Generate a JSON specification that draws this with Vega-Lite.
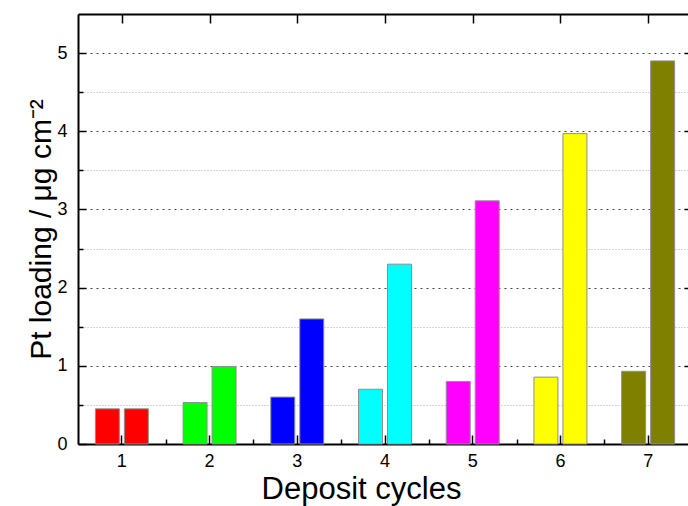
{
  "$schema": "https://vega.github.io/schema/vega-lite/v6.json",
  "width": 610,
  "height": 430,
  "autosize": "none",
  "padding": {"left": 78, "top": 14, "right": 0, "bottom": 62},
  "config": {
    "view": {"stroke": null},
    "font": "Liberation Sans",
    "axis": {"labelColor": "black", "titleColor": "black", "domainColor": "black", "domainWidth": 2, "tickColor": "black", "tickWidth": 1.5}
  },
  "data": {
    "values": [
      {"cycle": 1, "series": "A", "loading": 0.45},
      {"cycle": 1, "series": "B", "loading": 0.45},
      {"cycle": 2, "series": "A", "loading": 0.53},
      {"cycle": 2, "series": "B", "loading": 0.99},
      {"cycle": 3, "series": "A", "loading": 0.60},
      {"cycle": 3, "series": "B", "loading": 1.60},
      {"cycle": 4, "series": "A", "loading": 0.70},
      {"cycle": 4, "series": "B", "loading": 2.30},
      {"cycle": 5, "series": "A", "loading": 0.80},
      {"cycle": 5, "series": "B", "loading": 3.11},
      {"cycle": 6, "series": "A", "loading": 0.855},
      {"cycle": 6, "series": "B", "loading": 3.97},
      {"cycle": 7, "series": "A", "loading": 0.93},
      {"cycle": 7, "series": "B", "loading": 4.90}
    ]
  },
  "layer": [
    {
      "mark": {"type": "bar", "stroke": "#8f8f8f", "strokeWidth": 1},
      "encoding": {
        "x": {
          "field": "cycle",
          "type": "ordinal",
          "scale": {"range": [0, 614], "paddingInner": 0.396, "paddingOuter": 0.198},
          "axis": {
            "orient": "bottom",
            "labelAngle": 0,
            "tickSize": -9,
            "labelFontSize": 18,
            "labelPadding": 17,
            "labelBaseline": "top",
            "grid": false,
            "title": "Deposit cycles",
            "titleFontSize": 31,
            "titleFontWeight": "normal",
            "titleX": 283,
            "titleY": 54,
            "titleAlign": "center",
            "titleBaseline": "alphabetic"
          }
        },
        "xOffset": {"field": "series", "type": "nominal", "scale": {"paddingInner": 0.172}},
        "y": {
          "field": "loading",
          "type": "quantitative",
          "stack": null,
          "scale": {"domain": [0, 5.5], "nice": false},
          "axis": {
            "orient": "left",
            "values": [0, 1, 2, 3, 4, 5],
            "format": "d",
            "tickSize": -8,
            "labelFontSize": 18,
            "labelPadding": 19,
            "grid": true,
            "gridColor": "#444444",
            "gridDash": [2, 4],
            "gridWidth": 1,
            "title": "Pt loading / μg cm⁻²",
            "titleFontSize": 30,
            "titleFontWeight": "normal",
            "titleAngle": -90,
            "titleX": -28,
            "titleY": 215,
            "titleAlign": "center",
            "titleBaseline": "alphabetic"
          }
        },
        "fill": {
          "field": "cycle",
          "type": "nominal",
          "scale": {"range": ["#ff0000", "#00ff00", "#0000ff", "#00ffff", "#ff00ff", "#ffff00", "#808000"]},
          "legend": null
        }
      }
    },
    {
      "mark": {"type": "point", "opacity": 0},
      "encoding": {
        "x": {
          "field": "cycle",
          "type": "quantitative",
          "scale": {"domain": [0.5, 7.5], "range": [0, 614], "nice": false, "zero": false},
          "axis": {
            "orient": "top",
            "values": [1, 2, 3, 4, 5, 6, 7],
            "labels": false,
            "tickSize": -9,
            "grid": false,
            "title": null
          }
        },
        "y": {
          "field": "loading",
          "type": "quantitative",
          "axis": {
            "orient": "right",
            "values": [1, 2, 3, 4, 5],
            "labels": false,
            "domain": false,
            "tickSize": -4,
            "grid": false,
            "title": null
          }
        }
      }
    },
    {
      "mark": {"type": "point", "opacity": 0},
      "encoding": {
        "x": {
          "field": "cycle",
          "type": "quantitative",
          "scale": {"domain": [0.5, 7.5], "range": [0, 614], "nice": false, "zero": false},
          "axis": {
            "orient": "bottom",
            "values": [1.5, 2.5, 3.5, 4.5, 5.5, 6.5],
            "labels": false,
            "domain": false,
            "tickSize": -5,
            "grid": false,
            "title": null
          }
        },
        "y": {
          "field": "loading",
          "type": "quantitative",
          "axis": {
            "orient": "left",
            "values": [0.5, 1.5, 2.5, 3.5, 4.5],
            "labels": false,
            "domain": false,
            "tickSize": -5,
            "grid": true,
            "gridColor": "#aaaaaa",
            "gridDash": [1, 2],
            "gridWidth": 1,
            "title": null
          }
        }
      }
    }
  ],
  "resolve": {
    "scale": {"x": "independent"},
    "axis": {"x": "independent", "y": "independent"}
  }
}
